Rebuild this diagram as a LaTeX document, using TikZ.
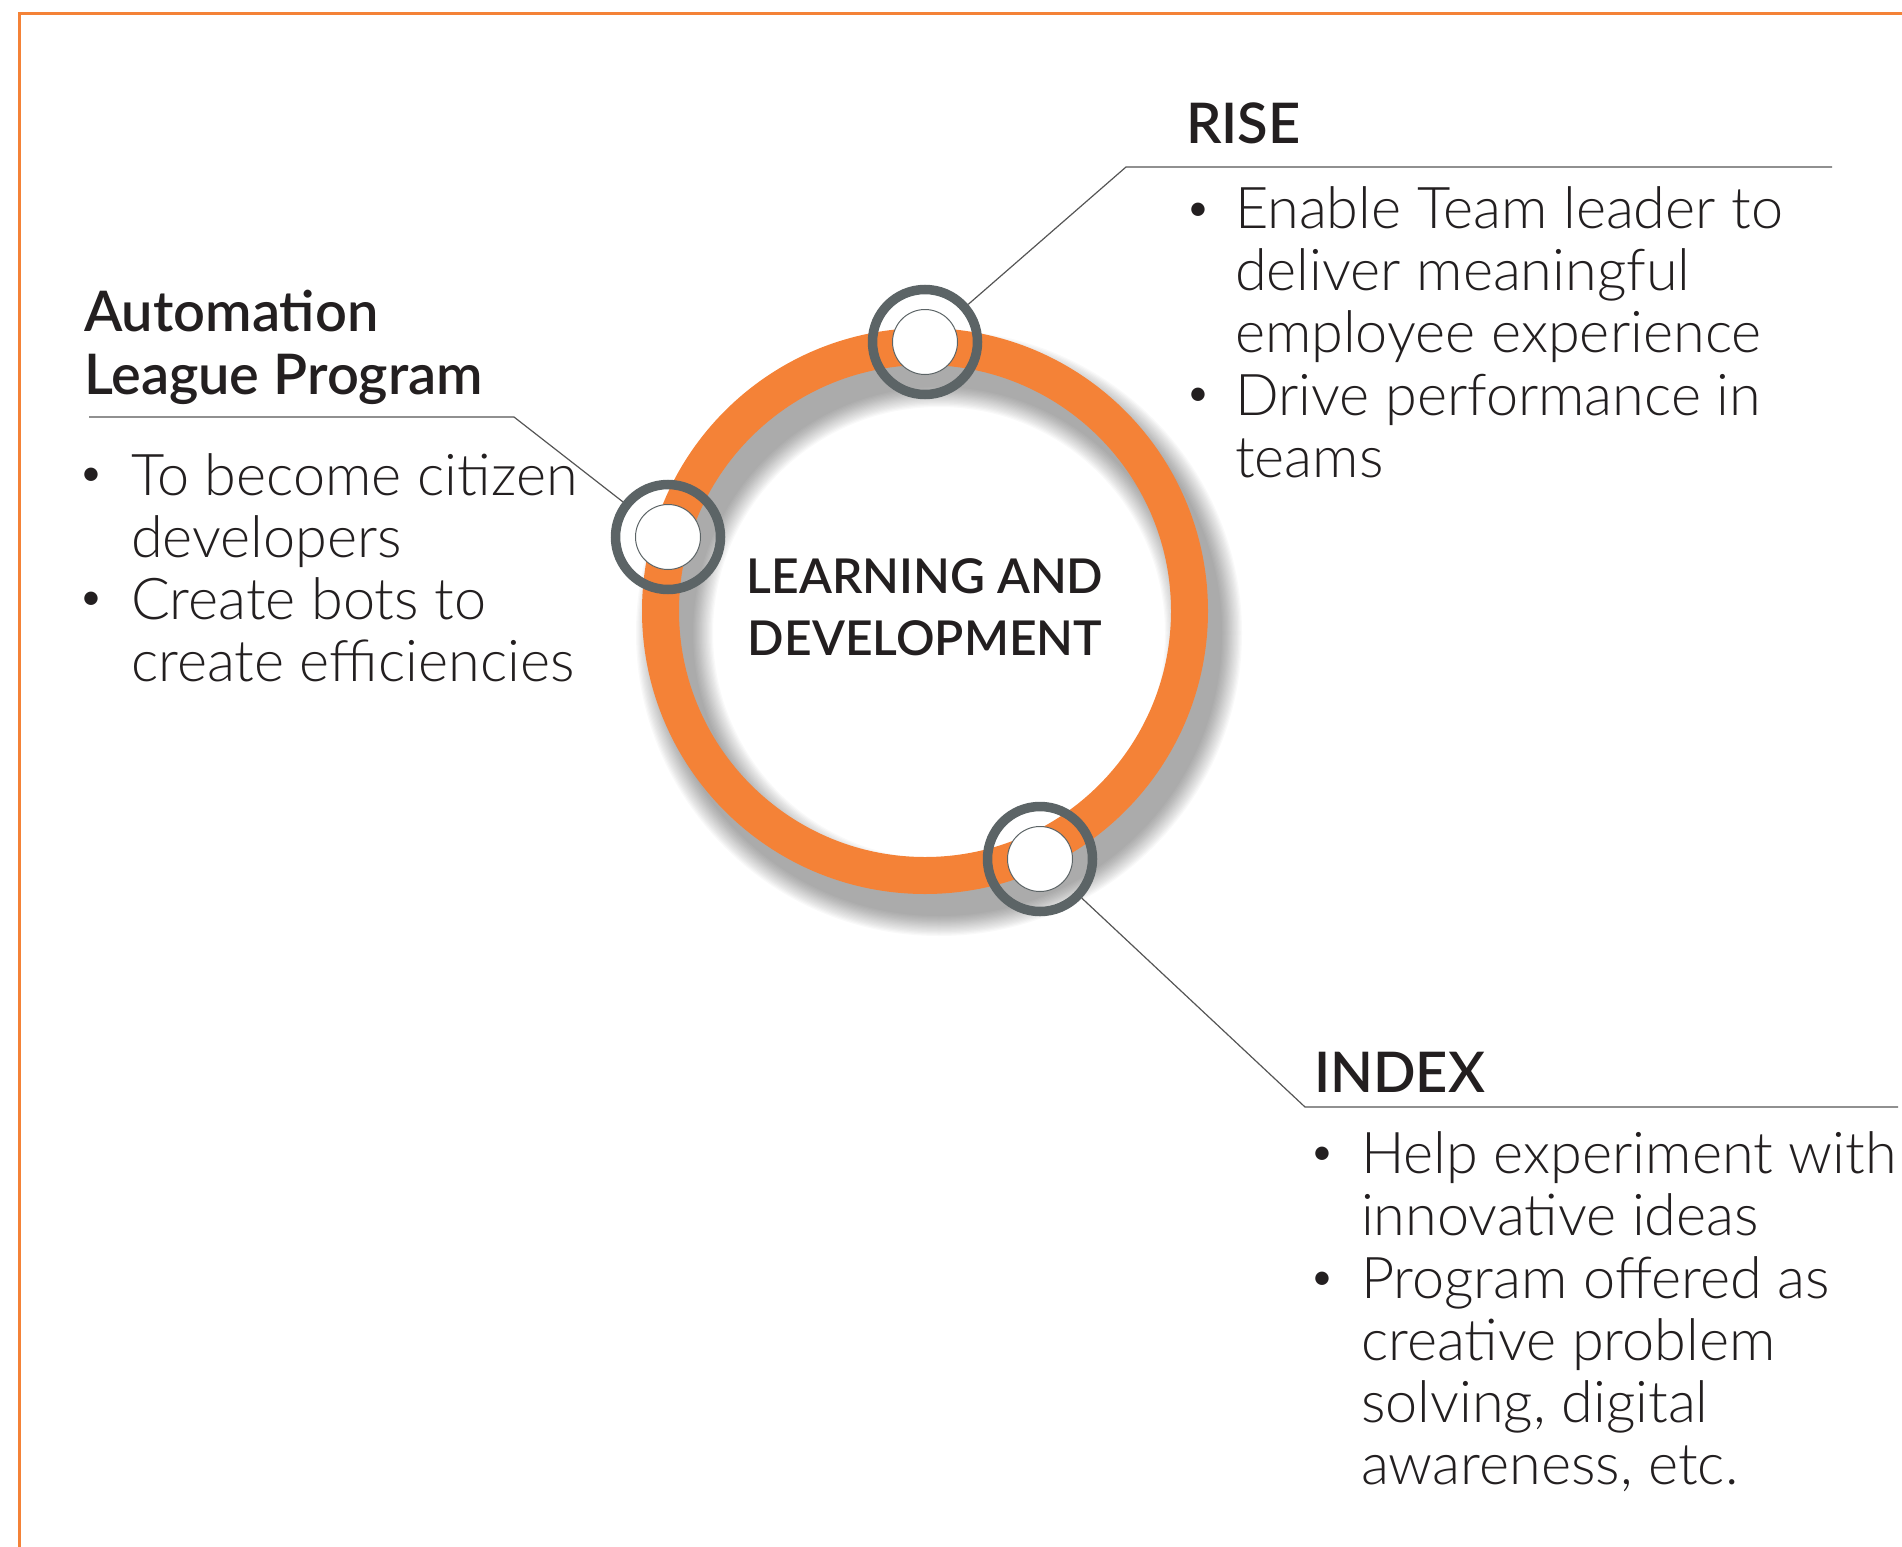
\documentclass[tikz,border=0pt]{standalone}
\usepackage{fontspec}
\setmainfont{Lato}
\IfFontExistsTF{Lato Light}{\newfontfamily\bodyfont{Lato Light}}{\newfontfamily\bodyfont{Lato}}
\IfFontExistsTF{Lato Semibold}{\newfontfamily\headfont{Lato Semibold}}{\newfontfamily\headfont{Lato}[UprightFont=*-Bold]}
\definecolor{brandorange}{RGB}{244,130,55}
\definecolor{ringgray}{RGB}{92,100,102}
\definecolor{ink}{RGB}{35,31,32}
\definecolor{linegray}{RGB}{85,85,85}
\begin{document}
\begin{tikzpicture}[x=0.5pt,y=-0.5pt,
  body/.style={font=\bodyfont\fontsize{28.8}{31}\selectfont, text=ink, inner sep=0pt, outer sep=0pt, align=left, anchor=base west},
  head/.style={font=\headfont\fontsize{28}{31.5}\selectfont, text=ink, inner sep=0pt, outer sep=0pt, align=left, anchor=base west},
  bul/.style={font=\fontsize{18}{18}\selectfont, text=ink, inner sep=0pt, outer sep=0pt, anchor=center},
  conn/.style={draw=linegray, line width=0.6pt},
  markring/.style={circle, draw=ringgray, line width=4.75pt, minimum size=52.5pt, inner sep=0pt},
  markdot/.style={circle, fill=white, draw=ringgray, line width=0.5pt, minimum size=32.5pt, inner sep=0pt},
  mainring/.style={circle, draw=brandorange, line width=18.5pt, minimum size=264.5pt, inner sep=0pt}
]
\useasboundingbox (0,0) rectangle (1902,1547);
% frame
\draw[brandorange, line width=1.4pt] (19.7,1547) -- (19.7,13.3) -- (1902,13.3);
% shadow of ring
\foreach \k in {0,...,16}{
  \draw[black, opacity=0.023, line width={(37+2.5*\k)*0.5pt}] (939,633) circle[radius=132.25pt];
}
% main ring
\node[mainring] (ring) at (925,611) {};
\node[font=\headfont\fontsize{24}{31}\selectfont, text=ink, align=center, inner sep=0pt, anchor=base] (center) at (925,655) {LEARNING AND\\DEVELOPMENT};
% markers
\node[markring] (mTop) at (925,342) {};
\node[markring] (mLeft) at (668,537) {};
\node[markring] (mBot) at (1040,859) {};
% connectors
\coordinate (kR) at (1126,167);
\coordinate (eR) at (1832,167);
\coordinate (kA) at (514,417);
\coordinate (eA) at (89,417);
\coordinate (kI) at (1305,1107);
\coordinate (eI) at (1898,1107);
\draw[conn] (mTop) -- (kR) -- (eR);
\draw[conn] (mLeft) -- (kA) -- (eA);
\draw[conn] (mBot) -- (kI) -- (eI);
% white dots
\node[markdot] (dTop) at (mTop.center) {};
\node[markdot] (dLeft) at (mLeft.center) {};
\node[markdot] (dBot) at (mBot.center) {};
% RISE
\node[head] (hR) at (1186,143) {RISE};
\node[bul] (bR1) at (1198,212) {•};
\node[body] (tR1) at (1235,352) {Enable Team leader to\\deliver meaningful\\employee experience};
\node[bul] (bR2) at (1198,397) {•};
\node[body] (tR2) at (1235,477) {Drive performance in\\teams};
% Automation
\node[head] (hA) at (84,394) {Automation\\League Program};
\node[bul] (bA1) at (91,477) {•};
\node[body] (tA1) at (131,557) {To become citizen\\developers};
\node[bul] (bA2) at (91,601) {•};
\node[body] (tA2) at (131,681) {Create bots to\\create efficiencies};
% INDEX
\node[head] (hI) at (1314,1092) {INDEX};
\node[bul] (bI1) at (1322,1156) {•};
\node[body] (tI1) at (1361,1235) {Help experiment with\\innovative ideas};
\node[bul] (bI2) at (1322,1281) {•};
\node[body] (tI2) at (1361,1484) {Program offered as\\creative problem\\solving, digital\\awareness, etc.};
\end{tikzpicture}
\end{document}
